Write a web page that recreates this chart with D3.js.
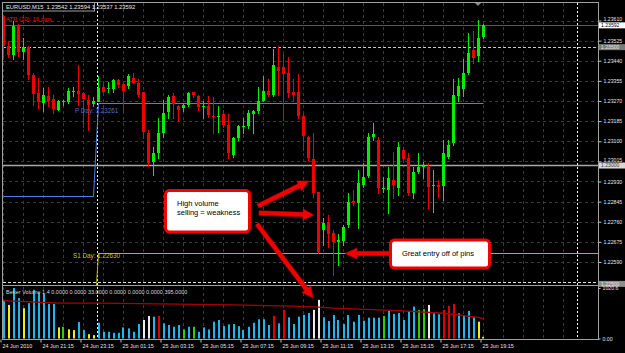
<!DOCTYPE html>
<html><head><meta charset="utf-8">
<script src="https://cdn.jsdelivr.net/npm/d3@7"></script>
<style>html,body{margin:0;padding:0;background:#000;overflow:hidden}svg{display:block}</style>
</head><body><svg id="c" width="625" height="353"></svg>
<script>
// ---------- DATA ----------
const opens=[1.23628,1.23501,1.23463,1.23585,1.23475,1.23496,1.23378,1.23302,1.23263,1.23293,
1.23280,1.23234,1.23268,1.23268,1.23310,1.23314,1.23302,1.23276,1.23259,1.23268,
1.23331,1.23319,1.23319,1.23357,1.23340,1.23331,1.23369,1.23348,1.23306,1.23136,
1.23014,1.23052,1.23136,1.23221,1.23289,1.23247,1.23238,1.23251,1.23306,1.23289,
1.23242,1.23247,1.23208,1.23204,1.23217,1.23170,1.23043,1.23115,1.23162,1.23166,
1.23213,1.23230,1.23272,1.23314,1.23297,1.23412,1.23412,1.23390,1.23306,1.23306,
1.23208,1.23120,1.23026,1.22887,1.22726,1.22760,1.22713,1.22675,1.22680,1.22747,
1.22848,1.22840,1.22916,1.22954,1.23120,1.23107,1.22899,1.22895,1.22937,1.22904,
1.23064,1.23031,1.22882,1.22971,1.22993,1.22993,1.22912,1.22916,1.22912,1.23035,
1.23094,1.23293,1.23323,1.23386,1.23484,1.23458,1.23542];
const highs=[1.23632,1.23522,1.23607,1.23594,1.23535,1.23501,1.23390,1.23369,1.23327,1.23331,
1.23297,1.23276,1.23276,1.23327,1.23331,1.23420,1.23310,1.23297,1.23285,1.23374,
1.23348,1.23352,1.23361,1.23361,1.23348,1.23382,1.23390,1.23361,1.23306,1.23149,
1.23077,1.23200,1.23276,1.23297,1.23302,1.23255,1.23263,1.23310,1.23310,1.23297,
1.23268,1.23293,1.23285,1.23247,1.23234,1.23213,1.23120,1.23170,1.23200,1.23234,
1.23234,1.23331,1.23374,1.23361,1.23488,1.23501,1.23467,1.23454,1.23361,1.23382,
1.23213,1.23124,1.23136,1.22887,1.22776,1.22789,1.22726,1.22709,1.22747,1.22882,
1.22895,1.22980,1.23009,1.23136,1.23179,1.23120,1.22950,1.22993,1.23056,1.23098,
1.23073,1.23052,1.22993,1.23052,1.23014,1.23009,1.22980,1.22937,1.23107,1.23107,
1.23365,1.23369,1.23446,1.23556,1.23564,1.23611,1.23594];
const lows=[1.23454,1.23454,1.23446,1.23458,1.23446,1.23361,1.23255,1.23242,1.23226,1.23247,
1.23221,1.23234,1.23255,1.23263,1.23289,1.23255,1.23162,1.23149,1.23247,1.23268,
1.23306,1.23310,1.23310,1.23331,1.23226,1.23327,1.23344,1.23289,1.23115,1.22997,
1.22959,1.23031,1.23120,1.23200,1.23200,1.23191,1.23226,1.23247,1.23285,1.23234,
1.23200,1.23204,1.23136,1.23141,1.23162,1.23031,1.23035,1.23107,1.23136,1.23158,
1.23136,1.23221,1.23268,1.23289,1.23289,1.23297,1.23191,1.23285,1.23276,1.23200,
1.23064,1.23022,1.22865,1.22628,1.22662,1.22653,1.22535,1.22577,1.22662,1.22738,
1.22831,1.22734,1.22908,1.22950,1.23107,1.22882,1.22887,1.22797,1.22861,1.22874,
1.23014,1.22874,1.22861,1.22967,1.22946,1.22818,1.22802,1.22865,1.22853,1.23031,
1.23086,1.23272,1.23289,1.23382,1.23429,1.23441,1.23537];
const closes=[1.23501,1.23463,1.23585,1.23475,1.23496,1.23378,1.23297,1.23263,1.23297,1.23272,
1.23238,1.23272,1.23272,1.23314,1.23314,1.23302,1.23276,1.23255,1.23272,1.23327,
1.23310,1.23323,1.23357,1.23335,1.23310,1.23374,1.23348,1.23297,1.23136,1.23009,
1.23052,1.23136,1.23221,1.23285,1.23255,1.23230,1.23251,1.23302,1.23293,1.23242,
1.23247,1.23208,1.23204,1.23208,1.23170,1.23052,1.23115,1.23166,1.23166,1.23221,
1.23226,1.23272,1.23314,1.23297,1.23424,1.23395,1.23382,1.23306,1.23293,1.23204,
1.23124,1.23031,1.22882,1.22632,1.22755,1.22709,1.22675,1.22683,1.22738,1.22844,
1.22840,1.22925,1.22950,1.23120,1.23132,1.22904,1.22904,1.22946,1.22916,1.23077,
1.23026,1.22882,1.22971,1.22993,1.22997,1.22908,1.22916,1.22908,1.23052,1.23086,
1.23297,1.23335,1.23390,1.23471,1.23450,1.23535,1.23592];
const volumes=[767,679,1020,816,612,714,985,918,904,700,
700,224,237,184,170,333,170,88,68,319,
136,136,115,115,224,204,136,292,374,455,
442,455,306,272,237,272,184,237,237,136,
224,184,340,374,251,285,292,251,170,237,
319,388,388,272,455,306,578,428,292,442,
480,515,578,781,428,353,475,374,292,475,
340,475,360,421,421,421,455,557,496,516,
374,557,645,578,592,679,510,490,578,659,
700,510,462,557,428,340,33];
// Better Volume buffer of each bar: b=blue, y=yellow, g=green, w=white, r=red
const volumeBuffer=["b","y","b","b","y","b","b","b","b","b",
"b","y","g","y","y","b","b","y","y","b",
"b","b","b","b","b","b","b","b","w","w",
"b","r","b","b","b","b","g","b","g","b",
"b","b","b","b","b","b","b","b","b","b",
"b","b","b","b","r","b","r","b","b","b",
"b","b","w","w","b","b","b","b","b","b",
"b","b","b","b","b","b","g","b","b","b",
"b","b","b","g","g","w","b","b","r","r",
"r","b","b","b","b","y","y"];
const volumeMaIndex=[0,9,11,19,31,46,56,63,66,71,79,88,95,96];
const volumeMaValues=[767,726,714,714,700,679,659,635,612,592,563,510,428,395];
const priceTicks=[1.23610,1.23525,1.23440,1.23355,1.23270,1.23185,1.23100,1.23015,1.22930,1.22845,1.22760,1.22675,1.22590];
const timeTickIndex=[0,8,16,24,32,40,48,56,64,72,80,88,96];
const timeTickLabels=["24 Jun 2010","24 Jun 21:15","24 Jun 23:15","25 Jun 01:15","25 Jun 03:15","25 Jun 05:15","25 Jun 07:15","25 Jun 09:15","25 Jun 11:15","25 Jun 13:15","25 Jun 15:15","25 Jun 17:15","25 Jun 19:15"];
const daySeparatorIndex=[19,115];
const pivotDayValues=[1.22870,1.23261];
const s1DayValues=[1.22300,1.22630];
const levelLines=[1.23500,1.23000,1.22500];
const bidPrice=1.23592;
const volumeAxisMax=1020.6;
const header="EURUSD,M15  1.23542 1.23594 1.23537 1.23592";
const atrText="ATR (10): 16 pips";
const volumeTitle="Better Volume 1.4 0.0000 0.0000 33.0000 0.0000 0.0000 0.0000 395.0000";

// ---------- DRAW ----------
const svg=d3.select('#c');
const FONT='"Liberation Sans", Arial, sans-serif';
const nBars=opens.length;
const x=d3.scaleLinear().domain([0,115]).range([3.5,578.5]);
const y=d3.scaleLinear().domain([1.22500,1.23610]).range([283.3,20.5]);
const vy=d3.scaleLinear().domain([0,volumeAxisMax]).range([338.5,288]);
const ry=v=>Math.round(y(v))+0.5;

svg.append('rect').attr('width',625).attr('height',353).attr('fill','#000');
const defs=svg.append('defs');
defs.append('clipPath').attr('id','mainClip').append('rect').attr('x',3).attr('y',3).attr('width',595).attr('height',282);
defs.append('clipPath').attr('id','volClip').append('rect').attr('x',3).attr('y',286).attr('width',595).attr('height',53);

const grid=svg.append('g').attr('stroke','#3b3b3b').attr('stroke-dasharray','3,3').attr('stroke-width',1);
const vgrid=d3.range(0,116,4);
grid.selectAll('line.vg').data(vgrid).join('line')
  .attr('x1',d=>x(d)).attr('x2',d=>x(d)).attr('y1',3).attr('y2',285);
grid.selectAll('line.vg2').data(vgrid).join('line')
  .attr('x1',d=>x(d)).attr('x2',d=>x(d)).attr('y1',287).attr('y2',339);
grid.selectAll('line.hg').data(priceTicks).join('line')
  .attr('x1',3).attr('x2',598).attr('y1',d=>ry(d)).attr('y2',d=>ry(d));

// day separators
svg.append('g').selectAll('line').data(daySeparatorIndex).join('line')
  .attr('x1',d=>x(d)-1).attr('x2',d=>x(d)-1).attr('y1',3).attr('y2',339)
  .attr('stroke','#ffffff').attr('stroke-dasharray','2,2');

// level lines
const main=svg.append('g').attr('clip-path','url(#mainClip)');
main.append('line').attr('x1',3).attr('x2',598).attr('y1',ry(levelLines[0])).attr('y2',ry(levelLines[0]))
  .attr('stroke','#c8c8c8').attr('stroke-dasharray','3,2');
main.append('line').attr('x1',3).attr('x2',598).attr('y1',ry(levelLines[1])).attr('y2',ry(levelLines[1]))
  .attr('stroke','#a8a8a8').attr('stroke-width',1.5);
main.append('line').attr('x1',3).attr('x2',598).attr('y1',ry(levelLines[2])-1).attr('y2',ry(levelLines[2])-1)
  .attr('stroke','#e0e0e0').attr('stroke-dasharray','3,2');
main.append('line').attr('x1',3).attr('x2',598).attr('y1',ry(bidPrice)).attr('y2',ry(bidPrice))
  .attr('stroke','#5a5a5a');

// pivot lines
const dayStart=daySeparatorIndex[0];
const levelPts=(vals)=>[[0,vals[0]],[dayStart-1,vals[0]],[dayStart,vals[1]],[nBars-1,vals[1]]];
main.append('path').datum(levelPts(pivotDayValues))
  .attr('d',d3.line().x(d=>x(d[0])).y(d=>ry(d[1])))
  .attr('fill','none').attr('stroke','#4f7fe6').attr('stroke-width',1);
main.append('path').datum([[dayStart-1,s1DayValues[0]],[dayStart,s1DayValues[1]],[120,s1DayValues[1]]])
  .attr('d',d3.line().x(d=>x(d[0])).y(d=>ry(d[1])))
  .attr('fill','none').attr('stroke','#b4b400').attr('stroke-width',1);

// candles
const bars=d3.range(nBars).map(i=>({i,o:opens[i],h:highs[i],l:lows[i],c:closes[i]}));
const col=d=>d.c>=d.o?'#00f000':'#f00000';
main.selectAll('line.wick').data(bars).join('line')
  .attr('x1',d=>x(d.i)).attr('x2',d=>x(d.i))
  .attr('y1',d=>Math.round(y(d.h))).attr('y2',d=>Math.round(y(d.l))+1)
  .attr('stroke',col);
main.selectAll('rect.body').data(bars).join('rect')
  .attr('x',d=>x(d.i)-1.5).attr('width',3)
  .attr('y',d=>Math.round(Math.min(y(d.o),y(d.c))))
  .attr('height',d=>Math.max(1,Math.round(Math.abs(y(d.o)-y(d.c)))))
  .attr('fill',col);

// labels of pivot lines
svg.append('text').attr('x',75).attr('y',113).text('P Day: '+pivotDayValues[1].toFixed(5))
  .attr('font-family',FONT).attr('font-size',6.3).attr('fill','#4f74c8');
svg.append('text').attr('x',73).attr('y',258).text('S1 Day: '+s1DayValues[1].toFixed(5))
  .attr('font-family',FONT).attr('font-size',6.3).attr('fill','#c8c800');

// volume panel
const volColor={b:'#1fb6ee',y:'#f0f000',g:'#2ed000',w:'#ececec',r:'#e00000'};
const vol=svg.append('g').attr('clip-path','url(#volClip)');
vol.selectAll('rect').data(volumes).join('rect')
  .attr('x',(d,i)=>Math.round(x(i)-1)).attr('width',2)
  .attr('y',d=>vy(d)).attr('height',d=>vy(0)-vy(d))
  .attr('fill',(d,i)=>volColor[volumeBuffer[i]]);
vol.append('path').datum(volumeMaIndex.map((d,k)=>[d,volumeMaValues[k]]))
  .attr('d',d3.line().x(d=>x(d[0])).y(d=>vy(d[1])))
  .attr('fill','none').attr('stroke','#a80000').attr('stroke-width',1.3);

// frames
const frame=svg.append('g').attr('stroke','#a0a0a0').attr('fill','none');
frame.append('line').attr('x1',2).attr('x2',599).attr('y1',2.5).attr('y2',2.5);
frame.append('line').attr('x1',2.5).attr('x2',2.5).attr('y1',2).attr('y2',340);
frame.append('line').attr('x1',2).attr('x2',599).attr('y1',285.5).attr('y2',285.5);
frame.append('line').attr('x1',2).attr('x2',599).attr('y1',339.5).attr('y2',339.5);
frame.append('rect').attr('x',2.5).attr('y',2.5).attr('width',92).attr('height',8.5).attr('fill','#000');

// right price axis
const axR=svg.append('g').attr('transform','translate(598.5,0)')
  .call(d3.axisRight(y).tickValues(priceTicks).tickFormat(d3.format('.5f')).tickSize(3).tickPadding(2));
axR.select('.domain').attr('stroke','#a0a0a0').attr('d','M0,2V340');
axR.selectAll('.tick line').attr('stroke','#c0c0c0');
axR.selectAll('.tick text').attr('fill','#e6e6e6').attr('font-family',FONT).attr('font-size',5.2)
  .attr('dy',d=>d===priceTicks[0]?'-0.05em':d===1.23015?'0.05em':'0.32em');
const boxes=[{v:bidPrice,bg:'#ffffff',fg:'#000'},{v:levelLines[0],bg:'#7a7a7a',fg:'#e8e8e8'},
  {v:levelLines[1],bg:'#d8d8d8',fg:'#404040'},{v:levelLines[2],bg:'#8c8c8c',fg:'#e8e8e8'}];
const bx=svg.append('g');
boxes.forEach(b=>{
  const yy=y(b.v)+0.6;
  bx.append('rect').attr('x',599).attr('y',yy-3).attr('width',26).attr('height',6).attr('fill',b.bg);
  bx.append('text').attr('x',601).attr('y',yy+1.8).text(b.v.toFixed(5))
    .attr('font-family',FONT).attr('font-size',5.1).attr('fill',b.fg);
});
// volume axis
const axV=svg.append('g').attr('transform','translate(598.5,0)')
  .call(d3.axisRight(vy).tickValues([volumeAxisMax,0]).tickFormat(d=>d===0?'0.00':d.toFixed(1)).tickSize(2).tickPadding(2));
axV.select('.domain').remove();
axV.selectAll('.tick line').attr('stroke','#c0c0c0');
axV.selectAll('.tick text').attr('fill','#e6e6e6').attr('font-family',FONT).attr('font-size',5.2);

// bottom time axis
const axB=svg.append('g').attr('transform','translate(0,339.5)')
  .call(d3.axisBottom(x).tickValues(timeTickIndex).tickFormat((d,k)=>timeTickLabels[k]).tickSize(3).tickPadding(2));
axB.select('.domain').remove();
axB.selectAll('.tick line').attr('stroke','#c0c0c0').attr('transform','translate(-3,0)');
axB.selectAll('.tick text').attr('fill','#e6e6e6').attr('font-family',FONT).attr('font-size',5.4)
  .attr('text-anchor','start').attr('dx',-1.5);

// header texts
svg.append('text').attr('x',6).attr('y',9).text(header).attr('font-family',FONT).attr('font-size',5.8).attr('fill','#e8e8e8').style('white-space','pre');
svg.append('text').attr('x',6).attr('y',20.5).text(atrText).attr('font-family',FONT).attr('font-size',5.9).attr('fill','#ee1010');
svg.append('text').attr('x',6).attr('y',294).text(volumeTitle).attr('font-family',FONT).attr('font-size',5.5).attr('fill','#d8d8d8');
svg.append('path').attr('d','M475,3L481,3L478,6Z').attr('fill','#8a8a8a');

// annotations
function arrow(g,x1,y1,x2,y2,sw,hl,hw){
  const dx=x2-x1,dy=y2-y1,L=Math.hypot(dx,dy),ux=dx/L,uy=dy/L,nx=-uy,ny=ux;
  const bxp=x2-ux*hl,byp=y2-uy*hl;
  const p=[[x1+nx*sw/2,y1+ny*sw/2],[bxp+nx*sw/2,byp+ny*sw/2],[bxp+nx*hw/2,byp+ny*hw/2],[x2,y2],
    [bxp-nx*hw/2,byp-ny*hw/2],[bxp-nx*sw/2,byp-ny*sw/2],[x1-nx*sw/2,y1-ny*sw/2]];
  g.append('path').attr('d','M'+p.map(q=>q.join(',')).join('L')+'Z')
    .attr('fill','#f20000').attr('stroke','#c00000').attr('stroke-width',0.6).attr('stroke-linejoin','round');
}
const ann=svg.append('g');
arrow(ann,258,206,309,181,4.5,11,11);
arrow(ann,259,213,314,215,4.5,11,11);
arrow(ann,257,224,313,298,4.5,11,11);
arrow(ann,390,253.5,345,253.5,4.5,12,11);
ann.append('rect').attr('x',165.5).attr('y',190.5).attr('width',84).attr('height',41.5).attr('rx',4)
  .attr('fill','#ffffff').attr('stroke','#f20000').attr('stroke-width',3);
ann.append('text').attr('x',177).attr('y',206).text('High volume').attr('font-family',FONT).attr('font-size',7.5).attr('fill','#000');
ann.append('text').attr('x',177).attr('y',215).text('selling = weakness').attr('font-family',FONT).attr('font-size',7.5).attr('fill','#000');
ann.append('rect').attr('x',390.5).attr('y',240).attr('width',99).attr('height',28).attr('rx',4)
  .attr('fill','#ffffff').attr('stroke','#f20000').attr('stroke-width',3);
ann.append('text').attr('x',402).attr('y',256).text('Great entry off of pins').attr('font-family',FONT).attr('font-size',7.5).attr('fill','#000');
</script></body></html>
